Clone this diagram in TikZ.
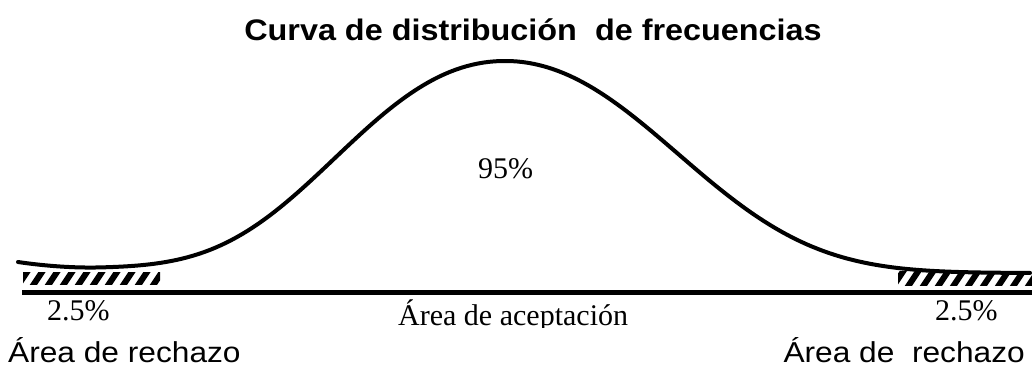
\documentclass[tikz,border=0pt]{standalone}
\usepackage{fontspec}
\setmainfont{Liberation Serif}
\newfontfamily\arialf{Liberation Sans}
\begin{document}
\begin{tikzpicture}[x=1pt,y=-1pt,
  lbl/.style={inner sep=0pt,anchor=base west},
  serif/.style={font=\fontsize{30}{34}\selectfont},
  sans/.style={font=\arialf\fontsize{28.8}{32}\selectfont},
  hatchline/.style={line width=6pt,black},
  curve/.style={line width=4pt,black,line cap=round,line join=round}]
\useasboundingbox (0,0) rectangle (1032,373);
% title
\node[inner sep=0pt,anchor=base,font=\arialf\bfseries\fontsize{29.7}{32}\selectfont] (title) at (533,40) {\scalebox{1.09}[1]{Curva de distribución\ \ de frecuencias}};
% hatched areas
\begin{scope}
  \clip (23,272) rectangle (160,284);
  \foreach \i in {0,...,10} \draw[hatchline] (15+\i*15,290) -- (31+\i*15,266);
\end{scope}
\begin{scope}
  \clip (898,271) rectangle (1032,285);
  \foreach \i in {0,...,10} \draw[hatchline] (890+\i*15,291) -- (906+\i*15,267);
\end{scope}
% axis
\coordinate (axl) at (22,292);
\coordinate (axr) at (1032,292);
\draw[line width=5pt] (axl) -- (axr);
% curve
\draw[curve]
  plot[domain=18:505,samples=90,variable=\t]
    (\t,{268-207*exp(-((\t-505)/100)^2/(2*(1.75-0.14*abs((\t-505)/100))^2))-6*(max(0,(100-\t)/82))^2})
  -- plot[domain=505:1030,samples=90,variable=\t]
    (\t,{273-212*exp(-((\t-505)/100)^2/(2*(1.75-0.08*((\t-505)/100))^2))});
% labels
\node[lbl,serif] (p95) at (478,178) {95\%};
\node[lbl,serif] (pl) at (47,320) {2.5\%};
\node[lbl,serif] (pr) at (935,320) {2.5\%};
\begin{scope}
  \clip (350,295) rectangle (700,327);
  \node[lbl,serif] (acep) at (398,325) {Área de aceptación};
\end{scope}
\node[lbl,sans] (rl) at (8,362) {\scalebox{1.1}[1]{Área de rechazo}};
\node[sans,inner sep=0pt,anchor=base east] (rr) at (1025,362) {\scalebox{1.1}[1]{Área de\ \ rechazo}};
\end{tikzpicture}
\end{document}
